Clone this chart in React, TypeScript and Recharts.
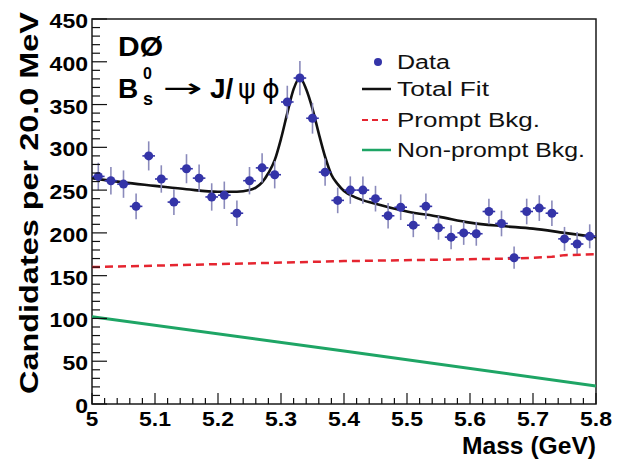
import React from 'react';
import { ComposedChart, Line, Scatter, XAxis, YAxis, ErrorBar, ReferenceArea } from 'recharts';

// ---- data ----
const massBins = [5.01, 5.03, 5.05, 5.07, 5.09, 5.11, 5.13, 5.15, 5.17, 5.19, 5.21, 5.23, 5.25, 5.27, 5.29, 5.31, 5.33, 5.35, 5.37, 5.39, 5.41, 5.43, 5.45, 5.47, 5.49, 5.51, 5.53, 5.55, 5.57, 5.59, 5.61, 5.63, 5.65, 5.67, 5.69, 5.71, 5.73, 5.75, 5.77, 5.79];
const candidates = [266, 261, 257, 231, 290, 263, 236, 275, 264, 242, 244, 223, 261, 276, 268, 353, 381, 334, 271, 238, 250, 250, 240, 220, 230, 209, 231, 206, 195, 200, 199, 225, 211, 171, 225, 229, 223, 193, 187, 196];
const candidateErr = [16, 16, 16, 15, 17, 16, 15, 17, 16, 16, 16, 15, 16, 17, 16, 19, 20, 18, 16, 15, 16, 16, 15, 15, 15, 14, 15, 14, 14, 14, 14, 15, 15, 13, 15, 15, 15, 14, 14, 14];
const binHalfWidth = 0.01;

const fitMass = [5.0, 5.05, 5.1, 5.15, 5.2, 5.23, 5.25, 5.26, 5.27, 5.28, 5.29, 5.3, 5.31, 5.32, 5.33, 5.34, 5.35, 5.36, 5.37, 5.38, 5.39, 5.4, 5.42, 5.45, 5.5, 5.55, 5.6, 5.65, 5.7, 5.75, 5.8];
const totalFit = [264, 259, 255, 251, 248, 248, 250, 253, 259, 270, 285, 310, 340, 368, 381, 368, 345, 316, 289, 268, 257, 249, 241, 234, 225, 219, 212, 208, 205, 200, 195];

const promptMass = [5.0, 5.4, 5.67, 5.73, 5.75, 5.8];
const promptBkg = [160, 167, 170, 172, 174, 175];

const nonPromptMass = [5.0, 5.4, 5.8];
const nonPromptBkg = [102, 62, 21];

const yTicks = [0, 10, 20, 30, 40, 50, 60, 70, 80, 90, 100, 110, 120, 130, 140, 150, 160, 170, 180, 190, 200, 210, 220, 230, 240, 250, 260, 270, 280, 290, 300, 310, 320, 330, 340, 350, 360, 370, 380, 390, 400, 410, 420, 430, 440, 450];
const yMajorTicks = [0, 50, 100, 150, 200, 250, 300, 350, 400, 450];
const xTicks = [5.0, 5.02, 5.04, 5.06, 5.08, 5.1, 5.12, 5.14, 5.16, 5.18, 5.2, 5.22, 5.24, 5.26, 5.28, 5.3, 5.32, 5.34, 5.36, 5.38, 5.4, 5.42, 5.44, 5.46, 5.48, 5.5, 5.52, 5.54, 5.56, 5.58, 5.6, 5.62, 5.64, 5.66, 5.68, 5.7, 5.72, 5.74, 5.76, 5.78, 5.8];
const xMajorTicks = [5.0, 5.1, 5.2, 5.3, 5.4, 5.5, 5.6, 5.7, 5.8];
const xTickLabels = ['5', '5.1', '5.2', '5.3', '5.4', '5.5', '5.6', '5.7', '5.8'];

const dataPoints = massBins.map((m, i) => ({ x: m, y: candidates[i], err: candidateErr[i], xerr: binHalfWidth }));
const fitData = fitMass.map((m, i) => ({ x: m, y: totalFit[i] }));
const promptData = promptMass.map((m, i) => ({ x: m, y: promptBkg[i] }));
const nonPromptData = nonPromptMass.map((m, i) => ({ x: m, y: nonPromptBkg[i] }));

const FONT = "'Liberation Sans', Arial, Helvetica, sans-serif";
const GREEK = "'DejaVu Sans', sans-serif";
const BLUE = '#3434a8';
const RED = '#e52530';
const GREEN = '#1ea565';

function YTick(props: any) {
  const { x, y, payload } = props;
  const v = payload.value;
  const major = yMajorTicks.indexOf(v) >= 0;
  const label = String(v);
  return (
    <g>
      <line x1={x} x2={x + (major ? 15 : 8)} y1={y} y2={y} stroke="#111" strokeWidth={1.2} />
      {major && (
        <text x={x - 4} y={y + 9} textAnchor="end" fontFamily={FONT} fontWeight="bold" fontSize={20}
          textLength={label.length * 12.8} lengthAdjust="spacingAndGlyphs" fill="#000">{label}</text>
      )}
    </g>
  );
}

function XTick(props: any) {
  const { x, y, payload } = props;
  const v = payload.value;
  const idx = xMajorTicks.findIndex((m) => Math.abs(m - v) < 1e-6);
  const major = idx >= 0;
  const label = major ? xTickLabels[idx] : '';
  return (
    <g>
      <line x1={x} x2={x} y1={y} y2={y - (major ? 11 : 6)} stroke="#111" strokeWidth={1.2} />
      {major && (
        <text x={x} y={y + 22} textAnchor="middle" fontFamily={FONT} fontWeight="bold" fontSize={20}
          textLength={label.length === 1 ? 12.5 : 32} lengthAdjust="spacingAndGlyphs" fill="#000">{label}</text>
      )}
    </g>
  );
}

const DataDot = (p: any) => <circle cx={p.cx} cy={p.cy} r={4.5} fill={BLUE} />;

export default function App() {
  return (
    <div style={{ position: 'absolute', left: 0, top: 0, width: 623, height: 460, background: '#fff' }}>
      <ComposedChart width={623} height={460} margin={{ top: 19, right: 27, left: 0, bottom: 0 }}>
        <XAxis dataKey="x" type="number" domain={[5, 5.8]} ticks={xTicks} interval={0} height={56}
          tickSize={0} tickMargin={0} axisLine={false} tickLine={false} tick={<XTick />} allowDataOverflow />
        <YAxis dataKey="y" type="number" domain={[0, 450]} ticks={yTicks} interval={0} width={92}
          tickSize={0} tickMargin={0} axisLine={false} tickLine={false} tick={<YTick />} allowDataOverflow />
        <ReferenceArea x1={5} x2={5.8} y1={0} y2={450} fill="none" fillOpacity={0} stroke="#1a1a1a" strokeWidth={1.5} ifOverflow="visible" />
        <Line data={nonPromptData} dataKey="y" type="linear" stroke={GREEN} strokeWidth={3} dot={false} activeDot={false} isAnimationActive={false} />
        <Line data={fitData} dataKey="y" type="monotone" stroke="#111" strokeWidth={2.6} dot={false} activeDot={false} isAnimationActive={false} />
        <Scatter data={dataPoints} dataKey="y" shape={DataDot} isAnimationActive={false}>
          <ErrorBar dataKey="err" direction="y" width={0} stroke="#8a8abb" strokeWidth={1.6} />
          <ErrorBar dataKey="xerr" direction="x" width={0} stroke={BLUE} strokeWidth={1.6} />
        </Scatter>
        <Line data={promptData} dataKey="y" type="linear" stroke={RED} strokeWidth={2.5} strokeDasharray="8 5" dot={false} activeDot={false} isAnimationActive={false} />
      </ComposedChart>
      <svg width={623} height={460} style={{ position: 'absolute', left: 0, top: 0, pointerEvents: 'none' }}>
        {/* axis titles */}
        <text x={38} y={203} transform="rotate(-90 38 203)" textAnchor="middle" fontFamily={FONT} fontWeight="bold" fontSize={26}
          textLength={382} lengthAdjust="spacingAndGlyphs" fill="#000">Candidates per 20.0 MeV</text>
        <text x={462} y={454} fontFamily={FONT} fontWeight="bold" fontSize={24} textLength={134} lengthAdjust="spacingAndGlyphs" fill="#000">Mass (GeV)</text>
        {/* annotations */}
        <text x={118} y={56} fontFamily={FONT} fontWeight="bold" fontSize={27} textLength={45} lengthAdjust="spacingAndGlyphs" fill="#000">DØ</text>
        <text x={118} y={98} fontFamily={FONT} fontWeight="bold" fontSize={28} fill="#000">B</text>
        <text x={143} y={79} fontFamily={FONT} fontWeight="bold" fontSize={16} fill="#000">0</text>
        <text x={143} y={105} fontFamily={FONT} fontWeight="bold" fontSize={18} fill="#000">s</text>
        <text x={163} y={97} fontFamily={GREEK} fontSize={26} textLength={40} lengthAdjust="spacingAndGlyphs" fill="#000">→</text>
        <text x={210} y={98} fontFamily={FONT} fontWeight="bold" fontSize={28} fill="#000">J/</text>
        <text x={238} y={98} fontFamily={GREEK} fontSize={27} fill="#000">ψ</text>
        <text x={262} y={98} fontFamily={GREEK} fontSize={27} fill="#000">ϕ</text>
        {/* legend */}
        <circle cx={378} cy={62} r={4} fill={BLUE} />
        <text x={397} y={69} fontFamily={FONT} fontSize={20} textLength={53} lengthAdjust="spacingAndGlyphs" fill="#111">Data</text>
        <line x1={362} x2={391} y1={89} y2={89} stroke="#111" strokeWidth={2.5} />
        <text x={397} y={96} fontFamily={FONT} fontSize={20} textLength={92} lengthAdjust="spacingAndGlyphs" fill="#111">Total Fit</text>
        <line x1={362} x2={391} y1={120} y2={120} stroke={RED} strokeWidth={2.2} strokeDasharray="6 4" />
        <text x={397} y={127} fontFamily={FONT} fontSize={20} textLength={143} lengthAdjust="spacingAndGlyphs" fill="#111">Prompt Bkg.</text>
        <line x1={362} x2={391} y1={150} y2={150} stroke={GREEN} strokeWidth={2.5} />
        <text x={397} y={157} fontFamily={FONT} fontSize={20} textLength={188} lengthAdjust="spacingAndGlyphs" fill="#111">Non-prompt Bkg.</text>
      </svg>
    </div>
  );
}
